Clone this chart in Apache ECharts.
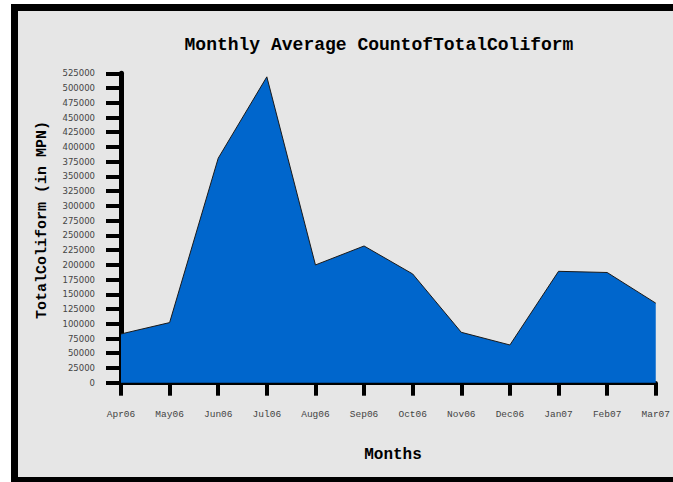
<!DOCTYPE html>
<html>
<head>
<meta charset="utf-8">
<script src="https://cdn.jsdelivr.net/npm/echarts@6/dist/echarts.min.js"></script>
<style>
html,body{margin:0;padding:0;background:#fff;overflow:hidden;}
#c{width:673px;height:482px;}
</style>
</head>
<body>
<div id="c"></div>
<script>
var months = ['Apr06','May06','Jun06','Jul06','Aug06','Sep06','Oct06','Nov06','Dec06','Jan07','Feb07','Mar07'];
var coliform = [82700, 102000, 381000, 519000, 199800, 232000, 184500, 85500, 64000, 189000, 187000, 135000];
var titleText = 'Monthly Average CountofTotalColiform';
var yName = 'TotalColiform (in MPN)';
var xName = 'Months';

var chart = echarts.init(document.getElementById('c'), null, {renderer: 'svg'});
chart.setOption({
  backgroundColor: '#ffffff',
  animation: false,
  graphic: [
    {type: 'rect', z: -10, shape: {x: 11, y: 4, width: 662, height: 478}, style: {fill: '#e6e6e6'}},
    {type: 'rect', z: -9, shape: {x: 11, y: 4, width: 662, height: 7}, style: {fill: '#000'}},
    {type: 'rect', z: -9, shape: {x: 11, y: 4, width: 7, height: 478}, style: {fill: '#000'}},
    {type: 'rect', z: -9, shape: {x: 11, y: 477, width: 662, height: 5}, style: {fill: '#000'}},
    {type: 'text', x: 379, y: 45, style: {text: titleText, align: 'center', verticalAlign: 'middle',
      font: 'bold 18px "Liberation Mono", monospace', fill: '#000'}},
    {type: 'text', x: 42, y: 220, rotation: Math.PI / 2, style: {text: yName, align: 'center', verticalAlign: 'middle',
      font: 'bold 15px "Liberation Mono", monospace', fill: '#000'}},
    {type: 'text', x: 393, y: 455, style: {text: xName, align: 'center', verticalAlign: 'middle',
      font: 'bold 16px "Liberation Mono", monospace', fill: '#000'}}
  ],
  grid: {left: 121, right: 14, top: 73.3, bottom: 99.3, containLabel: false},
  xAxis: {
    type: 'category', data: months, boundaryGap: false,
    axisLine: {lineStyle: {color: '#000', width: 4}},
    axisTick: {length: 13, lineStyle: {color: '#000', width: 4}},
    axisLabel: {margin: 27, fontFamily: '"Liberation Mono", monospace', fontSize: 9.5, color: '#444'},
    splitLine: {show: false}
  },
  yAxis: {
    type: 'value', min: 0, max: 525000, interval: 25000,
    axisLine: {show: true, lineStyle: {color: '#000', width: 5}},
    axisTick: {show: true, length: 15, lineStyle: {color: '#000', width: 4}},
    axisLabel: {margin: 26, fontFamily: '"DejaVu Sans", sans-serif', fontSize: 8.5, color: '#444',
      formatter: function (v) { return String(v); }},
    splitLine: {show: false}
  },
  series: [{
    type: 'line', data: coliform, symbol: 'none',
    lineStyle: {color: '#1a1a1a', width: 1},
    areaStyle: {color: '#0066cc', opacity: 1}
  }]
});
</script>
</body>
</html>
